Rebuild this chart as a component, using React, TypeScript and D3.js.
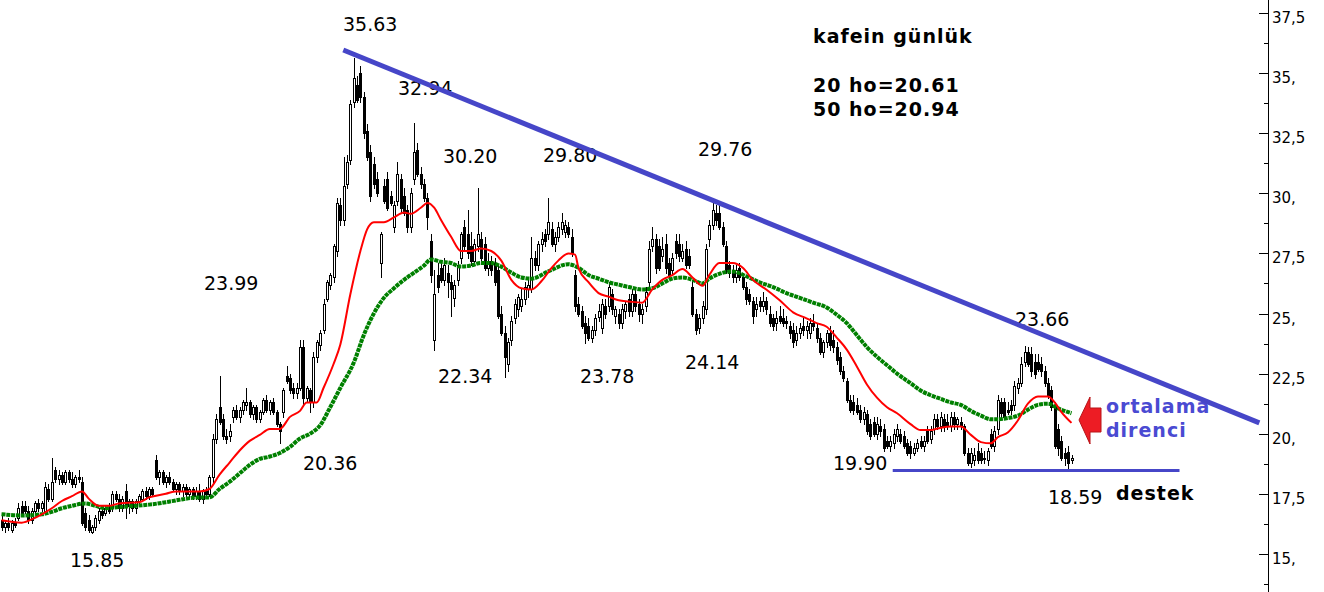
import React from "react";
import * as d3 from "d3";

type OHLC = [number, number, number, number]; // open, high, low, close

// ---- candles, left to right ----
const seg1: OHLC[] = [
  [16.4,16.6,16.0,16.1],[16.1,16.4,15.9,16.3],[16.3,16.5,16.0,16.1],[16.0,16.4,15.9,16.3],[16.3,16.5,16.1,16.2],
  [16.5,17.1,16.4,16.9],[17.0,17.2,16.6,16.7],[17.0,17.2,16.7,16.8],[16.8,17.0,16.3,16.4],[16.4,16.9,16.3,16.8],
  [16.8,17.2,16.7,17.1],[17.1,17.3,16.8,16.9],[16.9,17.2,16.8,17.1],[16.8,18.0,16.7,17.8],[17.7,17.9,17.2,17.3],
  [17.3,19.0,17.2,18.0],[18.5,18.6,18.0,18.1],[18.1,18.5,17.9,18.3],[18.3,18.4,17.9,18.0],[18.0,18.5,17.9,18.4],
  [18.4,18.5,18.0,18.1],[18.1,18.4,17.8,17.9],[17.9,18.3,17.8,18.2],[18.2,18.5,18.0,18.1],[18.0,18.2,16.2,16.3],
  [16.7,16.9,16.0,16.1],[16.4,16.6,15.9,16.0],[15.9,16.2,15.85,16.1],[16.1,16.6,16.0,16.5],[16.4,16.9,16.3,16.8],
  [16.8,17.0,16.5,16.6],[16.7,17.0,16.6,16.9],[16.9,17.1,16.7,16.8],[16.9,17.6,16.8,17.5],[17.5,17.6,17.2,17.3],
  [17.3,17.5,16.8,16.9],[16.9,17.4,16.8,17.3],[17.6,17.9,16.5,17.0],[17.0,17.3,16.7,17.2],[17.2,17.3,16.8,16.9],
  [16.9,17.3,16.7,17.2],[17.2,17.5,17.0,17.4],[17.3,17.7,17.2,17.6],[17.6,17.8,17.3,17.4],[17.4,17.8,17.3,17.7],
  [17.7,17.8,17.4,17.5],[18.9,19.1,18.1,18.2],[18.2,18.5,17.9,18.4],[18.4,18.5,17.9,18.0],[18.0,18.3,17.8,18.2],
  [18.2,18.4,17.9,18.0],[18.0,18.1,17.6,17.7],[17.7,18.0,17.5,17.9],[17.9,18.0,17.5,17.6],[17.6,17.9,17.4,17.8],
  [17.8,17.9,17.4,17.5],[17.5,17.8,17.3,17.7],[17.7,17.8,17.3,17.4],[17.4,17.8,17.3,17.6],
];
const seg2: OHLC[] = [
  [17.6,17.9,17.2,17.3],[17.3,17.7,17.1,17.6],[17.6,17.8,17.4,17.5],[17.5,18.3,17.4,18.2],[18.2,20.0,18.0,19.8],
  [19.8,20.8,19.6,20.6],[21.1,22.4,20.4,20.5],[20.6,20.8,19.8,19.9],[19.9,20.2,19.6,19.8],[19.9,20.4,19.7,20.1],
  [20.7,21.1,20.5,21.0],[21.0,21.2,20.6,20.7],[20.7,21.1,20.5,21.0],[21.0,21.4,20.8,21.3],[21.2,21.9,21.0,21.3],
  [21.3,21.4,20.7,20.8],[20.8,21.2,20.6,21.1],[21.1,21.2,20.5,20.6],[20.6,21.0,20.5,20.9],[20.9,21.5,20.8,21.4],
  [21.4,21.6,20.9,21.0],[21.0,21.4,20.8,21.3],[21.3,21.5,20.8,20.9],[20.9,21.0,20.3,20.4],[20.4,20.5,19.6,20.1],
  [20.9,21.9,20.7,21.8],[22.4,22.8,22.1,22.2],[22.3,22.5,21.7,21.8],[21.9,22.1,21.5,21.7],[21.7,22.1,21.5,21.9],
  [21.9,23.9,21.8,23.6],[23.6,23.9,21.2,21.5],[21.5,22.0,21.3,21.9],[21.8,21.9,20.9,21.3],[21.3,23.4,21.1,23.2],
  [23.2,23.9,23.0,23.8],[23.7,24.3,23.5,24.2],[24.3,25.6,24.2,25.4],[25.6,26.4,25.5,26.3],[26.2,26.7,26.0,26.6],
  [26.5,27.9,26.3,27.8],
];
const seg3: OHLC[] = [
  [27.6,29.8,27.4,29.6],[29.5,29.8,28.7,28.9],[28.9,31.5,28.7,30.3],[30.4,31.6,30.2,31.3],[31.4,33.9,31.2,33.7],
  [33.8,35.63,33.6,34.8],[34.5,34.9,33.8,33.9],[35.0,35.3,33.8,34.0],[34.0,34.2,32.3,32.5],[32.6,32.9,31.4,31.5],
  [31.7,32.0,29.7,29.9],[31.2,31.5,30.2,30.4],[30.6,30.9,29.9,30.0],[27.1,28.4,26.5,28.3],[30.3,30.6,29.6,29.7],
  [30.6,30.9,29.3,29.4],[29.9,30.1,29.5,29.6],[28.6,29.7,28.4,29.5],[29.7,31.3,29.5,30.8],[30.6,30.8,29.2,29.4],
  [29.9,30.2,29.1,29.2],[29.3,29.5,28.4,28.6],[28.6,30.2,28.4,30.0],[30.6,32.94,30.4,31.7],[31.8,32.1,30.7,30.8],
  [30.8,31.1,30.2,30.4],[30.4,30.6,29.7,29.8],[29.8,30.0,28.5,29.0],[28.0,28.3,26.3,26.6],[23.9,26.8,23.5,25.8],
  [26.6,27.1,25.9,26.1],[26.9,27.2,26.3,26.4],[26.4,27.3,26.2,27.0],[26.7,27.0,25.7,26.3],[26.3,26.6,24.9,26.0],
  [25.65,26.4,25.3,26.2],[26.4,27.2,26.2,27.0],[27.3,28.4,27.1,28.3],[28.6,28.9,27.7,27.8],[28.3,29.3,27.3,27.5],
  [27.8,28.4,27.0,27.2],[27.2,28.1,27.0,27.9],[27.8,30.2,27.6,28.3],[28.1,28.4,27.2,27.3],[27.9,28.2,26.8,26.9],
  [26.9,27.5,26.6,27.2],[27.2,27.4,26.6,26.8],[27.1,27.3,26.2,26.3],[26.8,27.0,24.8,24.9],[25.0,25.3,24.1,24.2],
  [24.2,24.5,22.34,23.2],[22.9,24.0,22.6,23.8],[23.9,24.9,23.7,24.7],[24.8,25.6,24.6,25.4],[25.2,25.8,24.9,25.7],
  [25.3,26.0,25.1,25.6],[25.6,26.3,25.4,26.1],[26.0,26.4,25.7,26.2],[26.0,28.2,25.9,27.3],[27.3,27.6,26.8,27.0],
];
const seg4: OHLC[] = [
  [27.0,28.0,26.8,27.9],[27.9,28.4,27.6,28.1],[28.3,28.5,27.8,28.0],[28.3,29.8,28.1,28.8],[28.5,28.8,27.8,27.9],
  [27.9,28.4,27.6,28.2],[28.2,28.8,28.0,28.6],[28.5,29.2,28.3,28.8],[28.4,28.9,28.2,28.7],[28.6,28.8,28.2,28.3],
  [28.2,28.5,27.4,27.5],[26.6,26.8,25.1,25.3],[25.4,25.7,24.9,25.0],[25.1,25.3,24.4,24.5],[24.6,24.9,23.78,24.2],
  [24.5,24.8,23.9,24.0],[24.0,24.5,23.8,24.3],[24.3,25.0,24.1,24.8],[24.85,25.4,24.7,25.1],[24.4,25.6,24.2,25.4],
  [25.3,25.6,24.8,25.0],[25.3,26.3,25.1,26.1],[25.8,26.0,25.0,25.2],[24.9,25.3,24.6,25.2],[25.0,25.2,24.4,24.6],
  [24.6,25.4,24.4,25.2],[25.1,25.5,24.8,25.4],[25.6,25.8,24.9,25.1],[25.1,26.0,24.9,25.8],[25.8,26.0,25.1,25.3],
  [25.4,25.6,24.7,25.0],[25.0,25.4,24.6,25.2],[25.3,26.1,25.1,25.9],[26.3,28.0,26.1,27.7],[27.8,28.6,27.6,28.1],
  [28.1,28.3,26.7,26.9],[27.8,28.1,26.8,26.9],[27.4,28.2,27.2,27.7],[27.9,28.3,26.7,26.9],[27.1,27.3,26.5,26.6],
  [26.8,27.5,26.6,27.3],[28.0,28.3,27.3,27.5],[27.9,28.3,27.2,27.4],[27.3,27.9,27.2,27.6],[27.7,28.0,26.9,27.0],
  [27.4,27.7,26.9,27.0],[26.1,26.4,24.9,25.0],[25.0,25.2,24.14,24.3],[24.4,25.0,24.2,24.8],[24.8,25.5,24.6,25.3],
  [25.2,27.9,25.0,27.7],[28.1,28.9,27.8,28.7],[28.7,29.76,28.5,29.3],[29.2,29.5,28.7,28.9],[29.2,29.5,28.5,28.6],
  [28.6,28.8,27.8,27.9],[27.8,28.0,26.7,26.8],
];
const seg5: OHLC[] = [
  [27.0,27.2,26.5,26.7],[26.7,27.0,26.3,26.5],[26.5,27.0,26.3,26.8],[26.9,27.1,26.4,26.5],[26.5,26.7,26.0,26.1],
  [26.1,26.3,25.4,25.6],[25.8,26.0,25.4,25.5],[25.5,25.7,24.6,24.9],[25.2,25.7,24.9,25.4],[25.5,25.7,25.1,25.3],
  [25.3,25.9,25.1,25.5],[25.5,25.7,25.0,25.2],[25.0,25.3,24.5,24.6],[24.8,25.0,24.3,24.5],[24.6,25.1,24.3,24.8],
  [24.9,25.3,24.6,24.7],[24.8,25.2,24.5,24.6],[24.7,24.9,24.4,24.6],[24.5,24.7,24.0,24.2],[24.3,24.6,23.6,23.8],
  [23.9,24.5,23.7,24.2],[24.2,24.6,24.0,24.4],[24.5,24.8,24.1,24.3],[24.3,24.7,24.0,24.5],[24.2,24.8,24.0,24.6],
  [24.6,25.0,24.3,24.5],[24.4,24.6,23.8,24.0],[24.0,24.2,23.3,23.4],[23.4,23.9,23.2,23.8],[23.8,24.3,23.6,24.2],
  [24.2,24.5,23.5,23.7],[23.9,24.3,23.4,23.6],[23.6,23.8,22.9,23.05],[23.2,23.4,22.5,22.6],[22.6,22.8,22.2,22.3],
  [22.2,22.3,21.3,21.4],[21.4,21.6,20.9,21.0],[21.3,21.6,20.8,21.0],[21.2,21.5,20.8,20.9],[21.0,21.2,20.5,20.6],
  [20.6,21.1,20.4,20.9],[20.8,21.0,20.0,20.1],[20.4,20.6,19.8,19.9],[20.5,20.7,19.9,20.0],[20.0,20.7,19.8,20.4],
  [20.3,20.6,19.9,20.1],[20.2,20.4,19.3,19.4],[19.7,19.9,19.4,19.5],[19.5,19.9,19.3,19.7],[19.6,20.2,19.4,20.0],
  [19.9,20.4,19.7,20.2],[20.0,20.2,19.6,19.7],[19.9,20.1,19.4,19.5],
];
const seg6: OHLC[] = [
  [19.6,19.8,19.1,19.2],[19.5,19.7,19.0,19.2],[19.2,19.6,19.1,19.4],[19.4,19.8,19.3,19.6],[19.7,19.9,19.4,19.5],
  [19.5,19.9,19.3,19.7],[20.1,20.3,19.6,19.7],[19.8,20.3,19.6,20.1],[20.2,20.8,20.0,20.6],[20.6,20.8,20.2,20.3],
  [20.3,20.9,20.1,20.7],[20.6,20.8,20.1,20.3],[20.5,20.8,20.2,20.3],[20.3,20.9,20.1,20.7],[20.7,20.9,20.2,20.4],
  [20.4,20.7,20.2,20.6],[20.5,20.7,20.2,20.3],[20.3,20.4,19.1,19.2],[19.2,19.4,18.7,18.8],[18.8,19.4,18.6,19.2],
  [18.9,19.4,18.7,19.1],[19.3,19.6,18.8,18.9],[19.2,19.4,18.8,18.9],[19.0,19.3,18.8,18.95],[18.9,19.4,18.7,19.3],
  [20.0,20.2,19.4,19.5],[19.5,20.3,19.3,20.1],[20.2,21.6,20.0,21.4],[21.3,21.5,20.7,20.85],[21.3,21.5,20.6,20.7],
  [21.0,21.3,20.8,20.9],[21.2,21.4,20.8,21.0],[21.2,22.2,21.0,22.0],[21.9,22.3,21.7,22.1],[22.1,23.2,22.0,22.9],
  [23.0,23.66,22.8,23.4],[23.4,23.6,22.8,22.9],[23.3,23.6,22.4,22.6],[23.0,23.3,22.3,22.5],[23.0,23.3,22.6,22.7],
  [22.9,23.2,22.4,22.6],[22.6,22.8,22.0,22.1],[22.1,22.3,21.5,21.6],[21.8,22.0,21.0,21.1],[21.1,21.3,19.4,19.5],
  [20.2,20.4,19.1,19.4],[19.7,19.9,18.9,19.0],[19.2,19.4,18.7,19.0],[19.25,19.5,18.59,18.8],[18.9,19.1,18.8,19.0],
];
const candles: OHLC[] = [...seg1, ...seg2, ...seg3, ...seg4, ...seg5, ...seg6];

// ---- moving averages: [candle index, value] ----
const ma20: [number, number][] = [
  [0,16.4],[6,16.3],[10,16.5],[15,16.9],[18,17.2],[21,17.4],[24,17.6],[26,17.3],[29,17.0],[32,17.0],
  [35,17.1],[41,17.15],[44,17.35],[49,17.5],[52,17.6],[59,17.6],[62,17.7],[65,18.3],[68,18.8],[71,19.3],
  [74,19.7],[77,19.95],[80,20.2],[83,20.2],[86,20.7],[89,20.95],[91,21.3],[94,21.3],[96,21.9],[99,22.9],
  [101,23.7],[104,25.8],[107,27.6],[109,28.5],[111,28.8],[114,28.8],[117,29.0],[120,29.2],[122,29.15],[125,29.4],
  [127,29.6],[129,29.4],[131,28.9],[134,28.2],[137,27.6],[140,27.6],[143,27.7],[146,27.6],[149,27.2],[152,26.4],
  [155,26.05],[158,26.0],[161,26.35],[164,26.9],[166,27.2],[169,27.5],[171,27.45],[172,26.9],[175,26.3],[178,25.85],
  [181,25.7],[184,25.55],[187,25.5],[191,25.45],[194,26.0],[197,26.4],[200,26.6],[203,26.85],[206,26.5],[209,26.15],
  [211,26.6],[214,27.1],[218,27.1],[221,26.9],[224,26.4],[228,26.0],[232,25.55],[236,25.05],[240,24.8],[243,24.6],
  [246,24.45],[249,24.0],[252,23.5],[255,22.8],[258,22.05],[261,21.5],[264,21.1],[267,20.85],[271,20.4],[274,20.15],
  [277,20.15],[280,20.25],[283,20.3],[286,20.3],[289,19.95],[292,19.65],[295,19.6],[297,19.85],[300,20.05],[303,20.55],
  [306,21.25],[309,21.55],[312,21.55],[314,21.3],[316,20.9],[319,20.45],
];
const ma50: [number, number][] = [
  [0,16.65],[6,16.6],[12,16.65],[15,16.75],[18,16.9],[21,17.0],[25,17.1],[28,17.0],[31,16.9],[35,16.95],
  [40,17.0],[44,17.05],[49,17.15],[53,17.25],[59,17.35],[62,17.35],[65,17.7],[68,18.0],[71,18.35],[74,18.7],
  [77,18.95],[80,19.05],[83,19.2],[86,19.45],[89,19.8],[92,20.0],[95,20.35],[98,21.1],[101,21.9],[105,22.95],
  [108,24.1],[111,25.0],[114,25.65],[117,26.05],[120,26.4],[123,26.7],[126,27.0],[128,27.25],[131,27.15],[134,27.1],
  [137,26.95],[140,27.0],[143,27.1],[146,27.1],[149,26.95],[152,26.7],[155,26.5],[158,26.45],[163,26.75],[169,27.05],
  [172,26.9],[175,26.6],[178,26.45],[181,26.3],[184,26.2],[187,26.1],[191,26.0],[194,26.05],[197,26.25],[200,26.45],
  [203,26.5],[206,26.4],[209,26.25],[211,26.45],[214,26.65],[218,26.75],[222,26.55],[226,26.3],[230,26.1],[234,25.85],
  [238,25.65],[242,25.45],[246,25.25],[249,24.95],[252,24.6],[255,24.1],[258,23.6],[261,23.2],[264,22.85],[267,22.5],
  [271,22.1],[274,21.8],[277,21.6],[280,21.45],[283,21.3],[286,21.2],[289,20.95],[292,20.75],[295,20.6],[297,20.6],
  [300,20.65],[303,20.75],[306,21.0],[309,21.2],[312,21.25],[315,21.05],[319,20.85],
];

// ---- drawn lines: [candle index, value] ----
const trendLine: [number, number][] = [[101.9, 35.96], [375.0, 20.45]];
const supportLine: [number, number][] = [[265.7, 18.47], [351.2, 18.47]];

// ---- axis ----
const yTicks = [15, 17.5, 20, 22.5, 25, 27.5, 30, 32.5, 35, 37.5];
const yTickLabels = ["15,", "17,5", "20,", "22,5", "25,", "27,5", "30,", "32,5", "35,", "37,5"];
const yMinor = [13.75, 16.25, 18.75, 21.25, 23.75, 26.25, 28.75, 31.25, 33.75, 36.25];

// ---- annotations ----
const priceNotes = [
  { t: "35.63", x: 343, y: 31 },
  { t: "32.94", x: 398, y: 95 },
  { t: "30.20", x: 443, y: 163 },
  { t: "29.80", x: 543, y: 162 },
  { t: "29.76", x: 698, y: 156 },
  { t: "23.99", x: 204, y: 290 },
  { t: "20.36", x: 303, y: 470 },
  { t: "15.85", x: 70, y: 567 },
  { t: "22.34", x: 438, y: 383 },
  { t: "23.78", x: 580, y: 383 },
  { t: "24.14", x: 685, y: 369 },
  { t: "23.66", x: 1015, y: 326 },
  { t: "19.90", x: 833, y: 470 },
  { t: "18.59", x: 1048, y: 504 },
];
const titleLines = [
  { t: "kafein günlük", x: 813, y: 43 },
  { t: "20 ho=20.61", x: 813, y: 92 },
  { t: "50 ho=20.94", x: 813, y: 116 },
];
const blueNotes = [
  { t: "ortalama", x: 1106, y: 413 },
  { t: "direnci", x: 1106, y: 437 },
];

const W = 1324;
const H = 592;
const FONT = "'DejaVu Sans', Verdana, sans-serif";
const BLUE = "#4646c8";

export default function App() {
  const x = d3.scaleLinear().domain([0, candles.length - 1]).range([1.5, 1071.5]);
  const y = d3.scaleLinear().domain([15, 37.5]).range([553.9, 13]);
  const axisX = 1268;

  const line = d3
    .line<[number, number]>()
    .x((d) => x(d[0]))
    .y((d) => y(d[1]))
    .curve(d3.curveMonotoneX);
  const straight = d3
    .line<[number, number]>()
    .x((d) => x(d[0]))
    .y((d) => y(d[1]));

  return (
    <div style={{ position: "absolute", left: 0, top: 0, width: W, height: H, background: "#fff" }}>
      <svg width={W} height={H} style={{ display: "block", background: "#fff" }}>
        {/* candles */}
        <g>
          {candles.map((d, i) => {
            const [o, h, l, c] = d;
            const cx = Math.round(x(i));
            const up = c >= o;
            const yTop = Math.round(y(Math.max(o, c)));
            const yBot = Math.round(y(Math.min(o, c)));
            const yH = Math.round(y(h));
            const yL = Math.round(y(l));
            return (
              <g key={i}>
                <line x1={cx + 0.5} x2={cx + 0.5} y1={yH} y2={yL + 1} stroke="#000" strokeWidth={1} />
                {up ? (
                  <rect x={cx - 0.5} y={yTop + 0.5} width={2} height={Math.max(1, yBot - yTop)} fill="#fff" stroke="#000" strokeWidth={1} />
                ) : (
                  <rect x={cx - 1} y={yTop} width={3} height={Math.max(1, yBot - yTop + 1)} fill="#000" />
                )}
              </g>
            );
          })}
        </g>

        {/* moving averages */}
        <path d={line(ma50) || ""} fill="none" stroke="#008000" strokeWidth={4} strokeDasharray="4 0.8" />
        <path d={line(ma20) || ""} fill="none" stroke="#ff0000" strokeWidth={2} />

        {/* price notes */}
        <g fontFamily={FONT} fontSize={19} fill="#000">
          {priceNotes.map((n, i) => (
            <text key={i} x={n.x} y={n.y}>{n.t}</text>
          ))}
        </g>
        <g fontFamily={FONT} fontSize={19} fontWeight="bold" fill="#000" letterSpacing={1}>
          {titleLines.map((n, i) => (
            <text key={i} x={n.x} y={n.y}>{n.t}</text>
          ))}
          <text x={1116} y={500}>destek</text>
        </g>
        <g fontFamily={FONT} fontSize={19} fontWeight="bold" fill="#4a4ad2" letterSpacing={1}>
          {blueNotes.map((n, i) => (
            <text key={i} x={n.x} y={n.y}>{n.t}</text>
          ))}
        </g>

        {/* trend and support lines */}
        <path d={straight(trendLine) || ""} stroke={BLUE} strokeWidth={5} fill="none" />
        <path d={straight(supportLine) || ""} stroke={BLUE} strokeWidth={3} fill="none" />

        {/* red arrow */}
        <polygon
          points="1079,420 1090,397 1090,408 1101,408 1101,432 1090,432 1090,444"
          fill="#ed1c24"
          stroke="#b81418"
          strokeWidth={1}
        />

        {/* right axis */}
        <line x1={axisX + 0.5} x2={axisX + 0.5} y1={0} y2={H} stroke="#000" strokeWidth={1} />
        {yTicks.map((v, i) => {
          const ty = Math.round(y(v)) + 0.5;
          return (
            <g key={"t" + i}>
              <line x1={axisX - 9} x2={axisX} y1={ty} y2={ty} stroke="#000" strokeWidth={1} />
              <text x={axisX + 4} y={ty + 9} fontFamily={FONT} fontSize={15} fill="#000">
                {yTickLabels[i]}
              </text>
            </g>
          );
        })}
        {yMinor.map((v, i) => {
          const ty = Math.round(y(v)) + 0.5;
          return <line key={"m" + i} x1={axisX - 4} x2={axisX} y1={ty} y2={ty} stroke="#000" strokeWidth={1} />;
        })}
      </svg>
    </div>
  );
}
